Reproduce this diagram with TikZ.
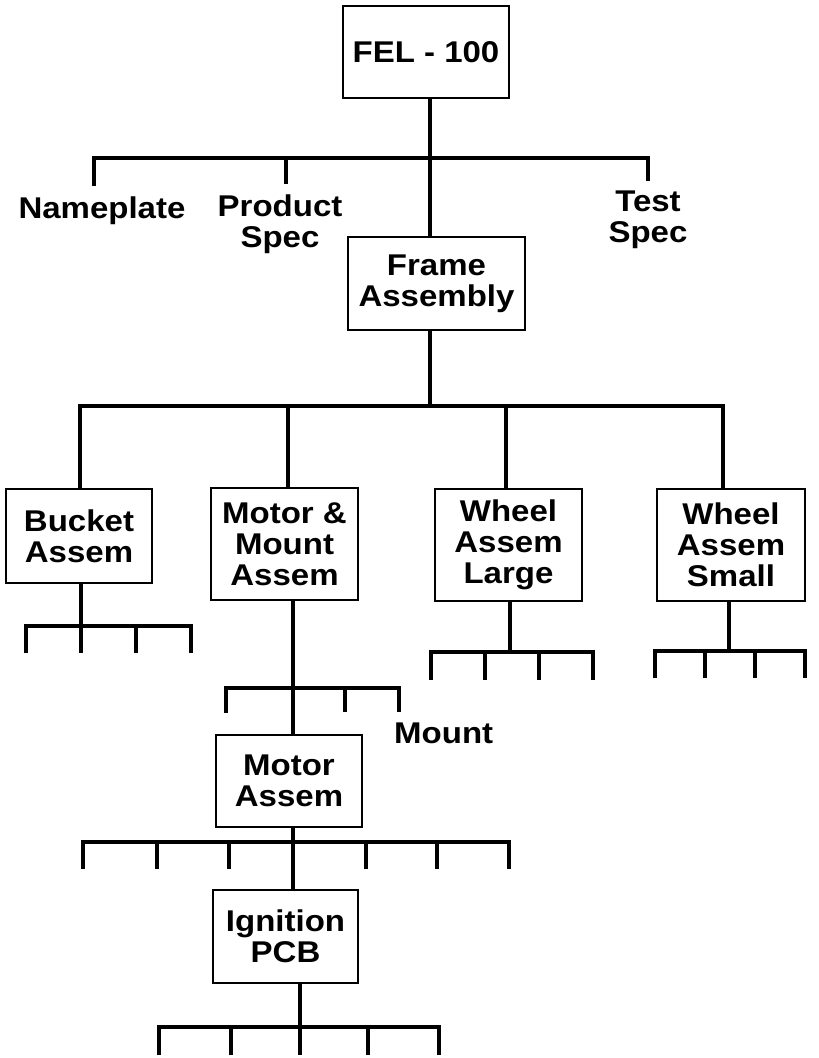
\documentclass[tikz,border=0pt]{standalone}
\usepackage{fontspec}
\newfontfamily\partfont{Liberation Sans}[FakeStretch=1.1]
\usetikzlibrary{positioning}

\begin{document}
\begin{tikzpicture}[
  x=1pt,y=-1pt,
  part/.style={rectangle,draw=black,line width=2pt,fill=white,align=center,inner sep=0pt,font={\partfont\bfseries\fontsize{30}{31}\selectfont},minimum width=147pt,minimum height=93pt},
  tallpart/.style={part,minimum height=112pt},
  lbl/.style={align=center,inner sep=0pt,font={\partfont\bfseries\fontsize{30}{31}\selectfont}},
  bus/.style={line width=4.5pt,black}
]
\useasboundingbox (0,0) rectangle (819,1058);

% top level
\node[part,minimum width=166pt,minimum height=92pt] (fel) at (426,52) {FEL - 100};
\node[part,minimum width=177pt] (frame) at (436.5,283.5) {Frame\\Assembly};

\coordinate (topbar) at (430,158);
\coordinate (np) at (94,186);
\coordinate (ps) at (286,184);
\coordinate (ts) at (648,181);

\node[lbl,below=11pt of np,xshift=8pt] (nameplate) {Nameplate};
\node[lbl,below=11pt of ps,xshift=-6pt] (prodspec) {Product\\Spec};
\node[lbl,below=10pt of ts] (testspec) {Test\\Spec};

\draw[bus] (topbar |- fel.south) -- (topbar |- frame.north);
\draw[bus] (np) |- (topbar) -| (ts);
\draw[bus] (ps) -- (ps |- topbar);

% assemblies under the frame
\node[part,minimum width=146pt,minimum height=94pt] (bucket) at (79,536) {Bucket\\Assem};
\node[tallpart] (mmount) at (284.5,544) {Motor \&\\Mount\\Assem};
\node[tallpart] (wlarge) at (508.5,545) {Wheel\\Assem\\Large};
\node[tallpart,minimum width=148pt] (wsmall) at (731,545) {Wheel\\Assem\\Small};

\coordinate (fbar) at (430,406);
\coordinate (fb1) at (80,406);
\coordinate (fb2) at (288,406);
\coordinate (fb3) at (506,406);
\coordinate (fb4) at (723,406);

\draw[bus] (fbar |- frame.south) -- (fbar);
\draw[bus] (fb1 |- bucket.north) -- (fb1) -- (fb4) -- (fb4 |- wsmall.north);
\draw[bus] (fb2) -- (fb2 |- mmount.north);
\draw[bus] (fb3) -- (fb3 |- wlarge.north);

% bucket parts
\coordinate (bkbar) at (81,626);
\coordinate (bk1) at (26,653);
\coordinate (bk2) at (81,653);
\coordinate (bk3) at (136,653);
\coordinate (bk4) at (191,653);
\draw[bus] (bkbar |- bucket.south) -- (bk2);
\draw[bus] (bk1) |- (bkbar) -| (bk4);
\draw[bus] (bk3) -- (bk3 |- bkbar);

% wheel assem large parts
\coordinate (wlbar) at (510,652);
\coordinate (wl1) at (431,680);
\coordinate (wl2) at (485,680);
\coordinate (wl3) at (539,680);
\coordinate (wl4) at (593,680);
\draw[bus] (wlbar |- wlarge.south) -- (wlbar);
\draw[bus] (wl1) |- (wlbar) -| (wl4);
\draw[bus] (wl2) -- (wl2 |- wlbar);
\draw[bus] (wl3) -- (wl3 |- wlbar);

% wheel assem small parts
\coordinate (wsbar) at (729,651);
\coordinate (ws1) at (655,678);
\coordinate (ws2) at (705,678);
\coordinate (ws3) at (755,678);
\coordinate (ws4) at (805,678);
\draw[bus] (wsbar |- wsmall.south) -- (wsbar);
\draw[bus] (ws1) |- (wsbar) -| (ws4);
\draw[bus] (ws2) -- (ws2 |- wsbar);
\draw[bus] (ws3) -- (ws3 |- wsbar);

% motor and mount
\node[part,minimum width=146pt,minimum height=92pt] (massem) at (289,781) {Motor\\Assem};

\coordinate (mmbar) at (293,688);
\coordinate (mm1) at (226,713);
\coordinate (mm3) at (345,712);
\coordinate (mm4) at (399,712);
\draw[bus] (mmbar |- mmount.south) -- (mmbar |- massem.north);
\draw[bus] (mm1) |- (mmbar) -| (mm4);
\draw[bus] (mm3) -- (mm3 |- mmbar);
\node[lbl,below right=11pt and -5pt of mm4] (mount) {Mount};

% motor assem parts
\node[part,minimum width=145pt] (ignition) at (285.5,936.5) {Ignition\\PCB};

\coordinate (mabar) at (293,842);
\coordinate (ma1) at (83,869);
\coordinate (ma2) at (157,869);
\coordinate (ma3) at (229,869);
\coordinate (ma5) at (366,869);
\coordinate (ma6) at (437,869);
\coordinate (ma7) at (509,869);
\draw[bus] (mabar |- massem.south) -- (mabar |- ignition.north);
\draw[bus] (ma1) |- (mabar) -| (ma7);
\draw[bus] (ma2) -- (ma2 |- mabar);
\draw[bus] (ma3) -- (ma3 |- mabar);
\draw[bus] (ma5) -- (ma5 |- mabar);
\draw[bus] (ma6) -- (ma6 |- mabar);

% ignition pcb parts
\coordinate (igbar) at (300,1027);
\coordinate (ig1) at (159,1055);
\coordinate (ig2) at (231,1055);
\coordinate (ig3) at (300,1055);
\coordinate (ig4) at (368,1055);
\coordinate (ig5) at (439,1055);
\draw[bus] (igbar |- ignition.south) -- (ig3);
\draw[bus] (ig1) |- (igbar) -| (ig5);
\draw[bus] (ig2) -- (ig2 |- igbar);
\draw[bus] (ig4) -- (ig4 |- igbar);

\end{tikzpicture}
\end{document}
